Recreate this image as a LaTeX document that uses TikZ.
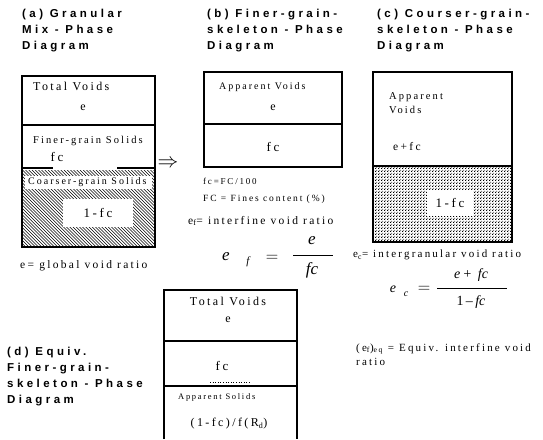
\documentclass[tikz,border=0pt]{standalone}
\usepackage{fontspec}
\setmainfont{Liberation Serif}
\newfontfamily\ttlfont[LetterSpace=30]{Liberation Sans}
\newfontfamily\bdyfont[LetterSpace=20]{Liberation Serif}
\newfontfamily\mathfont{Liberation Serif}
\usetikzlibrary{patterns}
\pgfdeclarepatternformonly{cdots}{\pgfpointorigin}{\pgfqpoint{3pt}{3pt}}{\pgfqpoint{3pt}{3pt}}{%
  \pgfpathrectangle{\pgfqpoint{0.2pt}{0.2pt}}{\pgfqpoint{1.15pt}{1.15pt}}%
  \pgfpathrectangle{\pgfqpoint{1.7pt}{1.7pt}}{\pgfqpoint{1.15pt}{1.15pt}}%
  \pgfusepath{fill}}
\tikzset{
  ttl/.style={anchor=north west, align=left, inner sep=0pt, font=\ttlfont\bfseries\fontsize{11.5}{16}\selectfont},
  bw/.style={anchor=west, inner sep=0pt, font=\bdyfont\fontsize{11.5}{13}\selectfont},
  bs/.style={anchor=west, inner sep=0pt, font=\bdyfont\fontsize{10}{11}\selectfont},
  bc/.style={anchor=center, inner sep=0pt, font=\bdyfont\fontsize{12}{13}\selectfont},
  fa/.style={inner sep=0pt, font=\mathfont\itshape\fontsize{17}{19}\selectfont},
  fb/.style={inner sep=0pt, font=\mathfont\itshape\fontsize{14}{16}\selectfont},
  boxline/.style={line width=1.1pt},
  hatchline/.style={line width=0.5pt},
}
\begin{document}
\begin{tikzpicture}[x=1pt,y=-1pt]
\useasboundingbox (0,0) rectangle (543,439);
\fill[white] (0,0) rectangle (543,439);

% ---------- (a) ----------
\node[ttl] (ta) at (22,9) {(a) Granular\\Mix - Phase\\Diagram};
\begin{scope}
  \clip (22,170) rectangle (155,247);
  \foreach \i in {-80,-76.8,...,160} {
    \draw[hatchline] (\i,170) -- ++(80,80);
  }
\end{scope}
\fill[white] (25,176) rectangle (152,189);
\fill[white] (63,199) rectangle (133,227);
\draw[boxline] (22,76) rectangle (155,247);
\draw[boxline] (22,125) -- (155,125);
\draw[boxline] (22,168) -- (53,168);
\draw[boxline] (117,168) -- (155,168);
\node[bw, font=\bdyfont\fontsize{12}{13}\selectfont] (a1) at (33,86) {Total Voids};
\node[bc] (a2) at (83,108) {e};
\node[bs, font=\bdyfont\fontsize{10.5}{11}\selectfont] (a3) at (33,141) {Finer-grain Solids};
\node[bc, font=\bdyfont\fontsize{13}{14}\selectfont] (a4) at (57,157) {fc};
\node[bs] (a5) at (28,182) {Coarser-grain Solids};
\node[bc, font=\bdyfont\fontsize{13}{14}\selectfont] (a6) at (98,213) {1-fc};
\node[inner sep=0pt, font=\fontsize{20}{20}\selectfont] (arr) at (168,164) {$\Rightarrow$};
\node[bw] (ge) at (20,266) {e= global void ratio};

% ---------- (b) ----------
\node[ttl] (tb) at (207,9) {(b) Finer-grain-\\skeleton - Phase\\Diagram};
\draw[boxline] (204,72) rectangle (342,167);
\draw[boxline] (204,124) -- (342,124);
\node[bs] (b1) at (219,87) {Apparent Voids};
\node[bc] (b2) at (273,108) {e};
\node[bc, font=\bdyfont\fontsize{13}{14}\selectfont] (b3) at (273,147) {fc};
\node[bs, font=\bdyfont\fontsize{9}{10}\selectfont] (b4) at (203,181) {fc=FC/100};
\node[bs, font=\bdyfont\fontsize{9.5}{10}\selectfont] (b5) at (203,199) {FC = Fines content (\%)};
\node[bw] (b6) at (188,221) {e\textsubscript{f}= interfine void ratio};
% e_f = e / fc
\node[fa] (fe) at (226,257) {e};
\node[fa, font=\mathfont\itshape\fontsize{11}{12}\selectfont] (ff) at (248,262) {f};
\node[inner sep=0pt, font=\fontsize{18}{18}\selectfont] (feq) at (272,258) {$=$};
\coordinate (fbl) at (293,255);
\coordinate (fbr) at (333,255);
\draw[line width=1pt] (fbl) -- (fbr);
\node[fa] (fn) at (312,241) {e};
\node[fa] (fd) at (312,270) {fc};

% ---------- (c) ----------
\node[ttl] (tc) at (377,9) {(c) Courser-grain-\\skeleton - Phase\\Diagram};
\fill[pattern=cdots] (373,166) rectangle (512,242);
\fill[white] (427,190) rectangle (473,216);
\draw[boxline] (373,72) rectangle (512,242);
\draw[boxline] (373,166) -- (512,166);
\node[bs, font=\bdyfont\fontsize{10.5}{11}\selectfont] (c1) at (389,97) {Apparent};
\node[bs, font=\bdyfont\fontsize{10.5}{11}\selectfont] (c2) at (389,110) {Voids};
\node[bw] (c3) at (393,147) {e+fc};
\node[bc, font=\bdyfont\fontsize{13}{14}\selectfont] (c4) at (450,203) {1-fc};
\node[bw, font=\bdyfont\fontsize{11}{12}\selectfont] (c5) at (353,255) {e\textsubscript{c}= intergranular void ratio};
% e_c = (e+fc)/(1-fc)
\node[fb] (ce) at (393,289) {e};
\node[fb, font=\mathfont\itshape\fontsize{10}{11}\selectfont] (cc) at (406,294) {c};
\node[inner sep=0pt, font=\fontsize{16}{16}\selectfont] (ceq) at (424,289) {$=$};
\coordinate (cbl) at (437,288);
\coordinate (cbr) at (507,288);
\draw[line width=0.9pt] (cbl) -- (cbr);
\node[fb] (cn) at (471,275) {e\,+\, fc};
\node[fb] (cd) at (471,302) {\upshape 1\,\textendash\,\itshape fc};

% ---------- (d) ----------
\node[ttl] (td) at (7,347) {(d) Equiv.\\Finer-grain-\\skeleton - Phase\\Diagram};
\draw[boxline] (164,439) -- (164,290) -- (297,290) -- (297,439);
\draw[boxline] (164,341) -- (297,341);
\draw[boxline] (164,386) -- (297,386);
\draw[dotted, line width=0.6pt] (210,382) -- (250,382);
\node[bc] (d1) at (228,301) {Total Voids};
\node[bc] (d2) at (228,320) {e};
\node[bc, font=\bdyfont\fontsize{13}{14}\selectfont] (d3) at (222,366) {fc};
\node[bs, font=\bdyfont\fontsize{8.5}{9}\selectfont] (d4) at (178,397) {Apparent Solids};
\node[bc] (d5) at (229,424) {(1-fc)/f(R\textsubscript{d})};
\node[bw, font=\bdyfont\fontsize{11}{12}\selectfont] (q1) at (356,349) {(e\textsubscript{f})\textsubscript{eq} = Equiv. interfine void};
\node[bw, font=\bdyfont\fontsize{11}{12}\selectfont] (q2) at (356,362) {ratio};
\end{tikzpicture}
\end{document}
